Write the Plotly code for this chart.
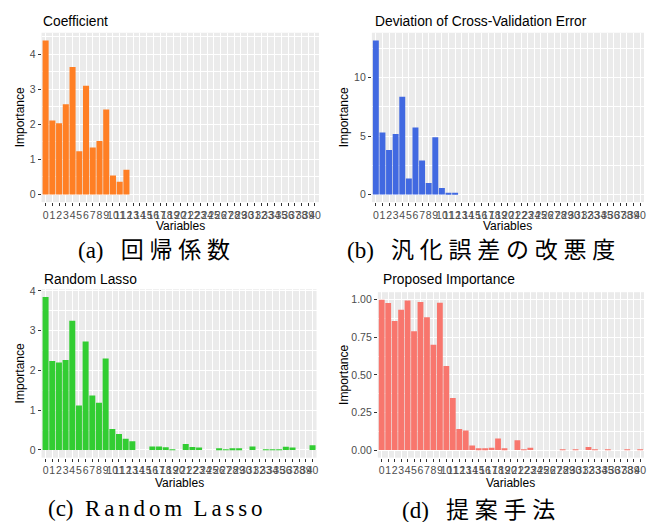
import plotly.graph_objects as go

variables = list(range(41))
tick_labels = [str(v) for v in variables]

coef_vals = [4.39, 2.11, 2.03, 2.57, 3.63, 1.23, 3.10, 1.34, 1.52, 2.42, 0.54, 0.36, 0.70] + [0.0] * 28

dev_vals = [13.2, 5.31, 3.80, 5.17, 8.38, 1.36, 5.74, 2.90, 0.97, 4.89, 0.54, 0.08, 0.08] + [0.0] * 28

rl_vals = [3.85, 2.24, 2.20, 2.26, 3.25, 1.12, 2.73, 1.37, 1.19, 2.30, 0.53, 0.40, 0.28, 0.22,
           0.0, 0.0, 0.09, 0.09, 0.07, 0.01, 0.0, 0.15, 0.075, 0.06, 0.0, 0.0,
           0.035, 0.01, 0.035, 0.035, 0.0, 0.09, 0.0, 0.01, 0.01, 0.01, 0.08, 0.06, 0.0, 0.0, 0.12]

prop_vals = [1.00, 0.978, 0.858, 0.934, 0.995, 0.79, 0.985, 0.884, 0.70, 0.98, 0.56, 0.346, 0.14, 0.13,
             0.03, 0.01, 0.01, 0.015, 0.077, 0.01, 0.0, 0.065, 0.005, 0.015, 0.0, 0.0,
             0.0, 0.0, 0.005, 0.0, 0.005, 0.0, 0.02, 0.005, 0.0, 0.005, 0.0, 0.0, 0.005, 0.0, 0.005]

titles = ["Coefficient", "Deviation of Cross-Validation Error", "Random Lasso", "Proposed Importance"]
S = "\u2006"
SJ = "\u2005"
GAP = "\u2002\u2005"
captions = ["(a)" + GAP + SJ.join("回帰係数"),
            "(b)" + GAP + SJ.join("汎化誤差の改悪度"),
            "(c)\u2002" + S.join("Random") + "\u2004" + S + S.join("Lasso"),
            "(d)" + GAP + SJ.join("提案手法")]
colors = ["#FF7F24", "#4169E1", "#32CD32", "#F8766D"]
series = [coef_vals, dev_vals, rl_vals, prop_vals]

W, H = 660, 522
# panel boxes in pixels: left, right, top, bottom
panels = [(41.7, 320, 28, 199), (373, 646, 28, 199), (41.7, 317.5, 287, 457), (379, 646, 290, 457)]
yticks = [[0, 1, 2, 3, 4], [0, 5, 10], [0, 1, 2, 3, 4], [0, 0.25, 0.5, 0.75, 1.0]]
ytext = [["0", "1", "2", "3", "4"], ["0", "5", "10"], ["0", "1", "2", "3", "4"],
         ["0.00", "0.25", "0.50", "0.75", "1.00"]]
minor_dt = [0.5, 2.5, 0.5, 0.125]
title_pos = [(41, 17), (374, 17), (42, 277), (382, 277)]
ylab_x = [20, 345, 20, 345]
xlab_y = [223, 223, 483, 483]
cap_pos = [(154, 248), (482, 248), (156, 508), (480, 510)]

fig = go.Figure()
layout = dict(width=W, height=H, margin=dict(l=0, r=0, t=0, b=0),
              paper_bgcolor="white", plot_bgcolor="#EBEBEB", showlegend=False,
              font=dict(family="Liberation Sans, Arial, sans-serif"))
annotations = []
for k in range(4):
    sfx = "" if k == 0 else str(k + 1)
    vals = series[k]
    fig.add_trace(go.Bar(x=variables, y=vals, width=0.9, marker=dict(color=colors[k], line=dict(width=0)),
                         xaxis="x" + sfx, yaxis="y" + sfx))
    l, r, t, b = panels[k]
    vmax = max(vals)
    layout["xaxis" + sfx] = dict(domain=[l / W, r / W], anchor="y" + sfx, range=[-0.6, 40.6],
                                 tickmode="array", tickvals=variables, ticktext=tick_labels, tickangle=0,
                                 tickfont=dict(size=10.5, color="#4D4D4D"), ticks="outside", ticklen=3,
                                 tickcolor="#333333", tickwidth=1, showgrid=True, gridcolor="white",
                                 gridwidth=1.1, zeroline=False, showline=False)
    layout["yaxis" + sfx] = dict(domain=[1 - b / H, 1 - t / H], anchor="x" + sfx,
                                 range=[-0.05 * vmax, 1.05 * vmax], tickmode="array",
                                 tickvals=yticks[k], ticktext=ytext[k],
                                 tickfont=dict(size=10.5, color="#4D4D4D"), ticks="outside", ticklen=3,
                                 tickcolor="#333333", tickwidth=1, showgrid=True, gridcolor="white",
                                 gridwidth=1.1, zeroline=False, showline=False,
                                 minor=dict(dtick=minor_dt[k], tick0=0, showgrid=True, gridcolor="white",
                                            gridwidth=0.5, ticklen=0))
    tx, ty = title_pos[k]
    annotations.append(dict(text=titles[k], x=tx / W, y=1 - ty / H, xref="paper", yref="paper",
                            xanchor="left", yanchor="middle", showarrow=False,
                            font=dict(size=13.8, color="black")))
    annotations.append(dict(text="Importance", x=ylab_x[k] / W, y=1 - (t + b) / 2 / H, xref="paper",
                            yref="paper", xanchor="center", yanchor="middle", textangle=-90,
                            showarrow=False, font=dict(size=12, color="black")))
    annotations.append(dict(text="Variables", x=(l + r) / 2 / W, y=1 - xlab_y[k] / H, xref="paper",
                            yref="paper", xanchor="center", yanchor="middle", showarrow=False,
                            font=dict(size=12, color="black")))
    cx, cy = cap_pos[k]
    annotations.append(dict(text=captions[k], x=cx / W, y=1 - cy / H, xref="paper", yref="paper",
                            xanchor="center", yanchor="middle", showarrow=False,
                            font=dict(size=23, color="black",
                                      family="Liberation Serif, Noto Sans CJK JP, serif")))
layout["annotations"] = annotations
fig.update_layout(**layout)
fig.write_html("out.html", config={"displayModeBar": False},
               post_script="document.body.style.margin='0px';document.body.style.overflow='hidden';")
